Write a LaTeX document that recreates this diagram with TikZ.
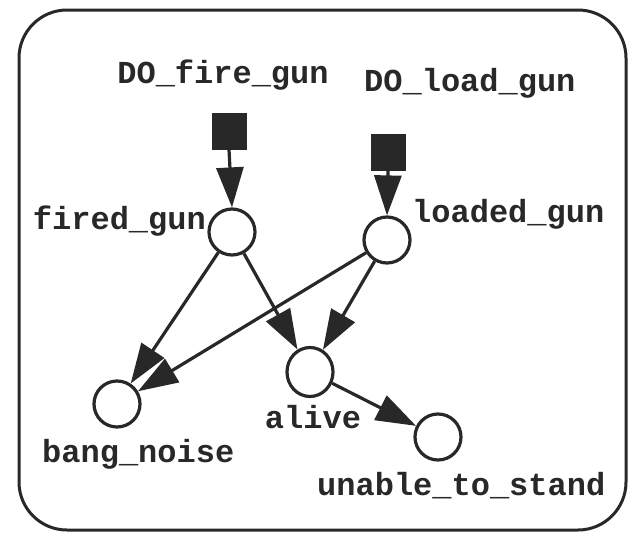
\documentclass[tikz,border=0pt]{standalone}
\usepackage{fontspec}
\setmonofont{Liberation Mono}
\usetikzlibrary{arrows.meta,shapes.geometric}
\definecolor{dk}{RGB}{40,40,40}
\begin{document}
\begin{tikzpicture}[x=1pt,y=-1pt,
  state/.style={circle,draw=dk,line width=3.2pt,minimum size=46pt,inner sep=0pt,fill=white},
  act/.style={rectangle,fill=dk,minimum width=35pt,minimum height=37pt,inner sep=0pt},
  lbl/.style={font=\ttfamily\bfseries\fontsize{32}{36}\selectfont,inner sep=0pt,text=dk},
  edge/.style={line width=3.2pt,draw=dk,-{Triangle[length=40pt,width=27pt,fill=dk]}}]
\useasboundingbox (0,0) rectangle (632,538);
\draw[line width=3pt,draw=dk,rounded corners=48pt] (19,10) rectangle (626,530);
% action nodes
\node[act] (dofire) at (229,131) {};
\node[act] (doload) at (388,152) {};
% state nodes
\node[state] (fired) at (232,232) {};
\node[state] (loaded) at (387,240) {};
\node[state,ellipse,minimum width=46pt,minimum height=49pt] (alive) at (310,372) {};
\node[state] (bang) at (117,404) {};
\node[state] (unable) at (438,437) {};
% labels
\node[lbl,anchor=base] (tdofire) at (223,83) {DO\_fire\_gun};
\node[lbl,anchor=base west] (tdoload) at (364,91) {DO\_load\_gun};
\node[lbl,anchor=base east] (tfired) at (206,229) {fired\_gun};
\node[lbl,anchor=base west] (tloaded) at (412,222) {loaded\_gun};
\node[lbl,anchor=base] (talive) at (313,428) {alive};
\node[lbl,anchor=base west] (tbang) at (42,462) {bang\_noise};
\node[lbl,anchor=base west] (tunable) at (317,495) {unable\_to\_stand};
% edges
\draw[edge] (dofire.south) -- (fired.north);
\draw[edge] (doload.south) -- (loaded.north);
\draw[edge] (fired) -- (bang);
\draw[edge] (fired) -- (alive);
\draw[edge] (loaded) -- (alive);
\draw[edge] (loaded) -- (bang);
\draw[edge] (alive) -- (unable);
\end{tikzpicture}
\end{document}
